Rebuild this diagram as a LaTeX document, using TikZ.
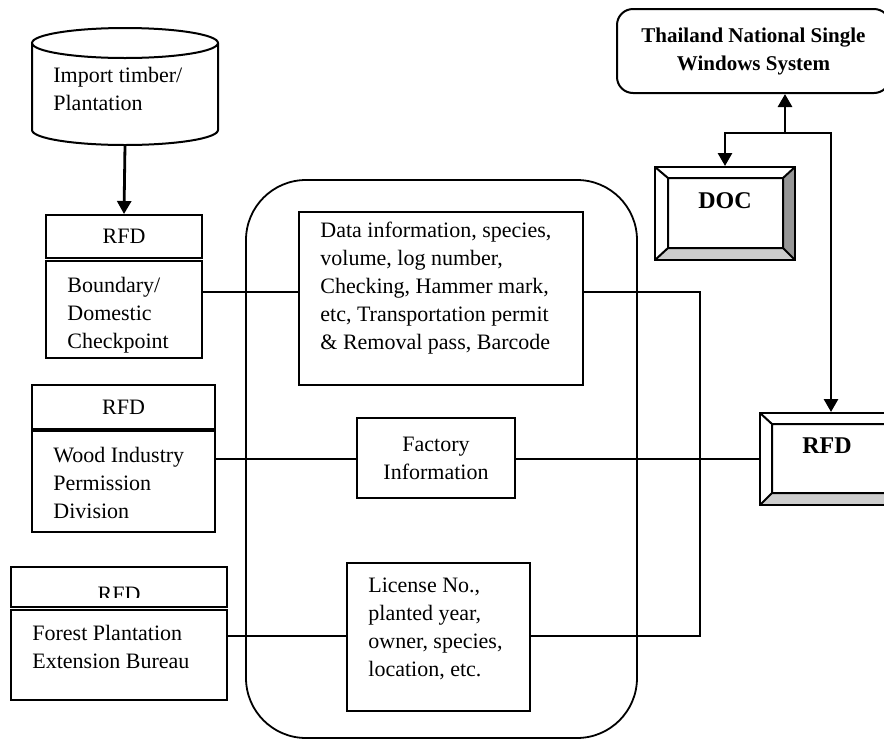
\documentclass[tikz,border=0pt]{standalone}
\usepackage{fontspec}
\setmainfont{Liberation Serif}
\usetikzlibrary{arrows.meta}
\definecolor{BevelDark}{RGB}{150,150,150}
\definecolor{BevelLight}{RGB}{205,205,205}

\begin{document}
\begin{tikzpicture}[x=0.5pt,y=-0.5pt,font=\fontsize{11}{14}\selectfont,
  box/.style n args={2}{draw,line width=1pt,minimum width=#1,minimum height=#2,inner sep=0pt},
  txt/.style={align=left,anchor=north west,inner sep=0pt},
  arr/.style={line width=1.4pt,-{Triangle[width=7pt,length=6.5pt]}},
  wire/.style={line width=0.9pt}]
\useasboundingbox (0,0) rectangle (884,740);
\clip (0,0) rectangle (884,740);
% source cylinder
\draw[line width=1pt] (125,43) ellipse[x radius=46.5pt,y radius=7.5pt];
\draw[line width=1pt] (32,43) -- (32,130)
   arc[start angle=180,end angle=360,x radius=46.5pt,y radius=7.5pt] -- (218,43);
\coordinate (src) at (125,145);
\node[txt] (srctxt) at (53,67) {Import timber/\\Plantation};
% container
\draw[line width=0.9pt,rounded corners=30pt] (246,180) rectangle (637,738);
% left column
\node[box={78pt}{21.5pt}] (hdr1) at (124,236.5) {RFD};
\node[box={78pt}{48.5pt}] (bdy1) at (124,309.5) {};
\node[txt] (bdy1txt) at (67,277) {Boundary/\\Domestic\\Checkpoint};
\node[box={91.5pt}{22pt}] (hdr2) at (123.5,407) {RFD};
\node[box={91.5pt}{50.5pt}] (bdy2) at (123.5,481.5) {};
\node[txt] (bdy2txt) at (53,447) {Wood Industry\\Permission\\Division};
\node[box={108pt}{20pt}] (hdr3) at (119,587) {};
\begin{scope}
  \clip (11,567) rectangle (227,597);
  \node (hdr3txt) at (119,594) {RFD};
\end{scope}
\node[box={108pt}{45pt}] (bdy3) at (119,655) {};
\node[txt] (bdy3txt) at (32,625) {Forest Plantation\\Extension Bureau};
% middle column
\node[box={142pt}{86.5pt}] (data) at (441,298.5) {};
\node[txt] (datatxt) at (320,222) {Data information, species,\\volume, log number,\\Checking, Hammer mark,\\etc, Transportation permit\\\& Removal pass, Barcode};
\node[box={79pt}{40pt},align=center] (fact) at (436,458) {Factory\\Information};
\node[box={91.5pt}{74pt}] (lic) at (438.5,637) {};
\node[txt] (lictxt) at (368,578) {License No.,\\planted year,\\owner, species,\\location, etc.};
% right column
\node[box={136.5pt}{42pt},rounded corners=8pt,align=center,font=\fontsize{10.5}{14}\selectfont\bfseries] (tnsw) at (753.5,51) {Thailand National Single\\Windows System};
\fill[BevelDark] (783,178) -- (795,167) -- (795,260) -- (783,248) -- cycle;
\fill[BevelLight] (655,260) -- (668,248) -- (783,248) -- (795,260) -- cycle;
\node[box={70pt}{46.5pt}] (doc) at (725,213.5) {};
\draw[line width=1pt] (668,178) rectangle (783,248)
   (655,167) -- (668,178) (795,167) -- (783,178) (655,260) -- (668,248) (795,260) -- (783,248);
\node[font=\fontsize{12}{14}\selectfont\bfseries] (doctxt) at (725,201) {DOC};
\fill[BevelLight] (760,505) -- (772,493) -- (890,493) -- (902,505) -- cycle;
\node[box={71pt}{46pt}] (rfd) at (831,459) {};
\draw[line width=1pt] (772,424) rectangle (890,493)
   (760,413) -- (772,424) (760,505) -- (772,493);
\node[font=\fontsize{12}{14}\selectfont\bfseries] (rfdtxt) at (827,446) {RFD};
% connectors
\coordinate (r1) at (0,292);
\coordinate (r2) at (0,459);
\coordinate (r3) at (0,636);
\coordinate (bus) at (700,0);
\coordinate (j) at (785,133);
\draw[arr] (src) -- (hdr1.north);
\draw[wire] (bdy1.east |- r1) -- (data.west |- r1);
\draw[wire] (data.east |- r1) -- (bus |- r1) -- (bus |- r3) -- (lic.east |- r3);
\draw[wire] (bdy2.east |- r2) -- (fact.west |- r2);
\draw[wire] (fact.east |- r2) -- (rfd.west |- r2);
\draw[wire] (bdy3.east |- r3) -- (lic.west |- r3);
\draw[arr] (j) -- (j |- tnsw.south);
\draw[arr] (j) -| (doc.north);
\draw[arr] (j) -| (rfd.north);
\end{tikzpicture}
\end{document}
